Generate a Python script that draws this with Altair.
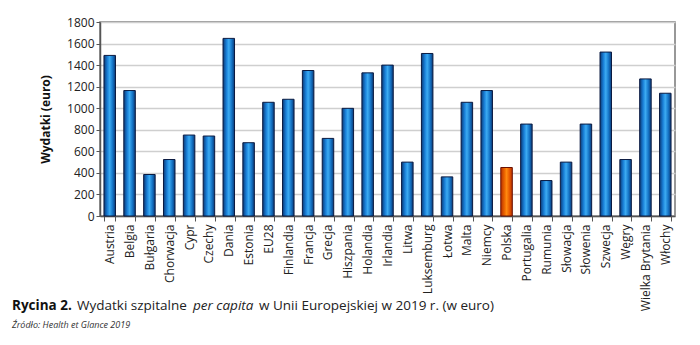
import altair as alt
import pandas as pd

countries = ["Austria", "Belgia", "Bułgaria", "Chorwacja", "Cypr", "Czechy", "Dania", "Estonia",
             "EU28", "Finlandia", "Francja", "Grecja", "Hiszpania", "Holandia", "Irlandia", "Litwa",
             "Luksemburg", "Łotwa", "Malta", "Niemcy", "Polska", "Portugalia", "Rumunia", "Słowacja",
             "Słowenia", "Szwecja", "Węgry", "Wielka Brytania", "Włochy"]
values = [1490, 1164, 385, 524, 751, 742, 1648, 680,
          1055, 1083, 1350, 720, 999, 1328, 1400, 500,
          1508, 363, 1055, 1164, 450, 853, 329, 500,
          853, 1521, 524, 1272, 1139]
highlight = "Polska"
y_ticks = [0, 200, 400, 600, 800, 1000, 1200, 1400, 1600, 1800]

df = pd.DataFrame({"kraj": countries, "wartosc": values})

W, H = 575, 194

blue = alt.Gradient(gradient="linear", x1=0, x2=1, y1=0, y2=0, stops=[
    alt.GradientStop(color="#0a3a78", offset=0),
    alt.GradientStop(color="#1a80d8", offset=0.3),
    alt.GradientStop(color="#3cabf2", offset=0.5),
    alt.GradientStop(color="#1676c8", offset=0.75),
    alt.GradientStop(color="#0a3a78", offset=1)])
orange = alt.Gradient(gradient="linear", x1=0, x2=1, y1=0, y2=0, stops=[
    alt.GradientStop(color="#b83000", offset=0),
    alt.GradientStop(color="#f06a00", offset=0.35),
    alt.GradientStop(color="#ff8a10", offset=0.5),
    alt.GradientStop(color="#e85a00", offset=0.75),
    alt.GradientStop(color="#b83000", offset=1)])

xenc = alt.X("kraj:N", sort=countries, title=None,
             scale=alt.Scale(paddingInner=0.42, paddingOuter=0.2),
             axis=alt.Axis(labelAngle=-90, labelAlign="right", labelBaseline="middle",
                           labelFont="Open Sans", labelFontSize=12, labelColor="#222",
                           labelPadding=3, tickBand="extent", tickSize=5, tickColor="#555",
                           domainColor="#555", domainWidth=1.5, grid=False, labelOverlap=False))
yenc = alt.Y("wartosc:Q", title="Wydatki (euro)",
             scale=alt.Scale(domain=[0, 1800], nice=False),
             axis=alt.Axis(values=y_ticks, format="d", labelFont="Open Sans", labelFontSize=12,
                           labelColor="#222",
                           titleFont="Open Sans", titleFontSize=12, titleFontWeight="bold",
                           titleColor="#111", titlePadding=14, tickSize=4, tickColor="#555",
                           domainColor="#555", domainWidth=1.5,
                           gridColor="#cfcfcf", gridWidth=1.5))

base = alt.Chart(df)
bars_blue = base.transform_filter(alt.datum.kraj != highlight).mark_bar(
    color=blue, stroke="#0b1a40", strokeWidth=1).encode(x=xenc, y=yenc)
bars_or = base.transform_filter(alt.datum.kraj == highlight).mark_bar(
    color=orange, stroke="#6a1000", strokeWidth=1).encode(x=xenc, y=yenc)

cap = pd.DataFrame({"a": [0]})
def txt(s, x, y, size, weight="normal", style="normal", color="#222"):
    return alt.Chart(cap).mark_text(text=s, align="left", baseline="middle", font="Open Sans",
                                    fontSize=size, fontWeight=weight, fontStyle=style,
                                    color=color).encode(x=alt.value(x), y=alt.value(y))

t1 = txt("Rycina 2.", 12 - 100, 306 - 22, 13.5, weight="bold", color="#111")
t2 = txt("Wydatki szpitalne", 77 - 100, 306 - 22, 13.5)
t3 = txt("per capita", 193 - 100, 306 - 22, 13.5, style="italic")
t4 = txt("w Unii Europejskiej w 2019 r. (w euro)", 259 - 100, 306 - 22, 13.5)
t5 = txt("Źródło: Health et Glance 2019", 12 - 100, 325 - 22, 9, style="italic", color="#333")

chart = alt.layer(bars_blue, bars_or, t1, t2, t3, t4, t5).properties(
    width=W, height=H,
    autosize=alt.AutoSizeParams(type="none"),
    padding={"left": 100, "top": 22, "right": 25, "bottom": 129},
    background="white"
).configure_view(stroke="#777", strokeWidth=1.5)

chart.save("out.html", embed_options={"renderer": "svg", "actions": False})
